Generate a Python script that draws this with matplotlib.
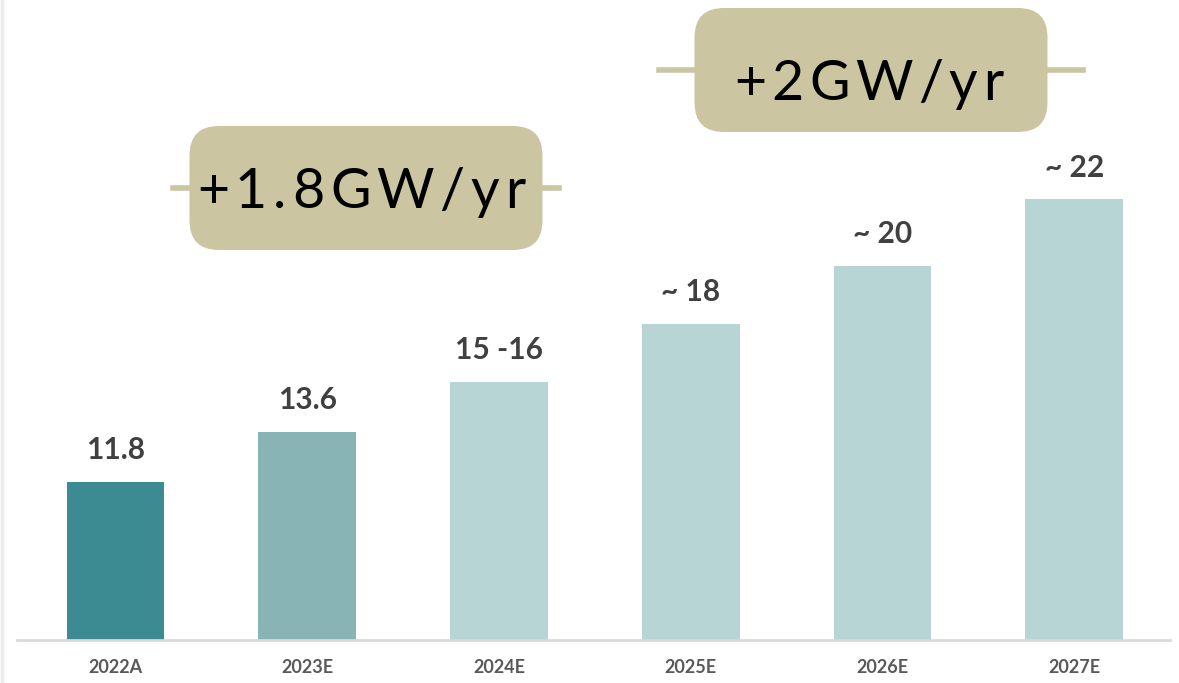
import matplotlib.pyplot as plt
from matplotlib.patches import FancyBboxPatch
from matplotlib.lines import Line2D

years = ['2022A', '2023E', '2024E', '2025E', '2026E', '2027E']
capacity = [11.8, 13.6, 15.4, 17.5, 19.6, 22.0]
value_labels = ['11.8', '13.6', '15 -16', '~ 18', '~ 20', '~ 22']
bar_colors = ['#3c8a92', '#89b4b5', '#b7d5d5', '#b7d5d5', '#b7d5d5', '#b7d5d5']

W, H = 1179, 683
fig = plt.figure(figsize=(W / 100, H / 100), dpi=100)
ax = fig.add_axes([17 / W, 1 - 640 / H, (1170 - 17) / W, 640 / H])

x = list(range(len(years)))
ax.bar(x, capacity, width=0.51, color=bar_colors, zorder=2)
ax.set_xlim(-0.514, 5.50)
ax.set_ylim(6.1, 29.2)

for xi, v, lab in zip(x, capacity, value_labels):
    ax.annotate(lab, xy=(xi, v), xytext=(0, 23), textcoords='offset points',
                ha='center', va='center', fontsize=21.5, fontweight='bold',
                color='#404040', family='Lato')

for s in ['top', 'right', 'left']:
    ax.spines[s].set_visible(False)
ax.spines['bottom'].set_color('#d9d9d9')
ax.spines['bottom'].set_linewidth(2)
ax.set_yticks([])
ax.set_xticks(x)
ax.set_xticklabels(years, fontsize=13, fontweight='bold', color='#595959', family='Lato')
ax.tick_params(axis='x', length=0, pad=14)

# faint left border
fig.add_artist(Line2D([1.5 / W, 1.5 / W], [0, 1], color='#ececec', lw=2.5))

renderer = fig.canvas.get_renderer()


def spaced_text(x0, x1, baseline, text, size=40):
    # draw characters one by one with even letter spacing between x0 and x1 (pixels)
    arts = [fig.text(0, 1 - baseline / H, ch, ha='left', va='baseline',
                     fontsize=size, color='black', family='Lato') for ch in text]
    widths = [a.get_window_extent(renderer).width for a in arts]
    gap = (x1 - x0 - sum(widths)) / (len(text) - 1)
    pos = x0
    for a, w in zip(arts, widths):
        a.set_x(pos / W)
        pos += w + gap


def growth_box(cx, cy, w, h, line_half, text, x0, x1, baseline):
    # connector line behind the box
    fig.add_artist(Line2D([(cx - line_half) / W, (cx + line_half) / W],
                          [1 - cy / H, 1 - cy / H], color='#cbc5a1', lw=4))
    box = FancyBboxPatch(((cx - w / 2) / W, 1 - (cy + h / 2) / H), w / W, h / H,
                         boxstyle='round,pad=0,rounding_size=0.025',
                         transform=fig.transFigure, facecolor='#cbc5a1',
                         edgecolor='none', mutation_aspect=W / H)
    fig.add_artist(box)
    spaced_text(x0, x1, baseline, text)


growth_box(366, 188, 353, 124, 193, '+1.8GW/yr', 197, 525, 208)
growth_box(871, 70, 353, 124, 212, '+2GW/yr', 734, 1003, 100)

fig.savefig('out.png', dpi=100, facecolor='white')
